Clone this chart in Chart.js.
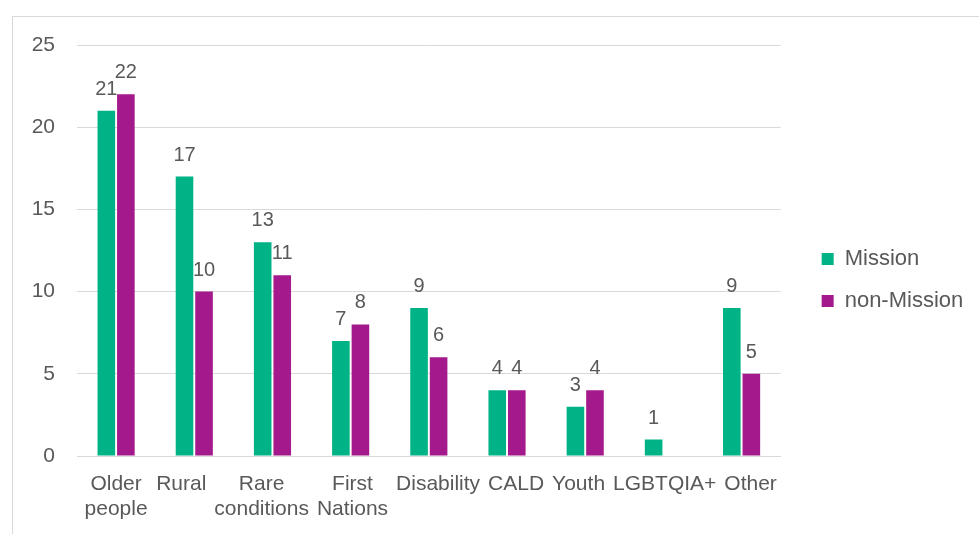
<!DOCTYPE html>
<html>
<head>
<meta charset="utf-8">
<script src="https://cdn.jsdelivr.net/npm/chart.js@4/dist/chart.umd.min.js"></script>
<style>
  html, body { margin: 0; padding: 0; background: #ffffff; }
  #frame { position: absolute; left: 12px; top: 16px; width: 1000px; height: 600px; border: 1px solid #d9d9d9; box-sizing: border-box; }
  #wrap { position: absolute; left: 0; top: 0; width: 979px; height: 534px; }
</style>
</head>
<body>
<div id="frame"></div>
<div id="wrap"><canvas id="c" width="979" height="534"></canvas></div>
<script>
const categories = [["Older", "people"], ["Rural"], ["Rare", "conditions"], ["First", "Nations"], "Disability", "CALD", "Youth", "LGBTQIA+", "Other"];
const seriesNames = ["Mission", "non-Mission"];
const missionValues = [21, 17, 13, 7, 9, 4, 3, 1, 9];
const nonMissionValues = [22, 10, 11, 8, 6, 4, 4, 0, 5];
const yTicks = [0, 5, 10, 15, 20, 25];

const textColor = '#595959';
const gridColor = '#d9d9d9';
const fontFamily = '"Liberation Sans", Arial, sans-serif';

// value labels above each bar
const valueLabels = {
  id: 'valueLabels',
  afterDatasetsDraw(chart) {
    const ctx = chart.ctx;
    ctx.save();
    ctx.font = '20px ' + fontFamily;
    ctx.fillStyle = textColor;
    ctx.textAlign = 'center';
    ctx.textBaseline = 'alphabetic';
    chart.data.datasets.forEach((ds, di) => {
      const meta = chart.getDatasetMeta(di);
      meta.data.forEach((bar, i) => {
        const v = ds.data[i];
        if (v === null || v === 0) return;
        ctx.fillText(String(v), bar.x, bar.y - 16);
      });
    });
    ctx.restore();
  }
};

// category labels, spread apart like Excel so wide labels do not overlap
const categoryLabels = {
  id: 'categoryLabels',
  afterDraw(chart) {
    const ctx = chart.ctx;
    const xs = chart.scales.x;
    const labels = chart.data.labels;
    ctx.save();
    ctx.font = '21px ' + fontFamily;
    ctx.fillStyle = textColor;
    ctx.textAlign = 'center';
    ctx.textBaseline = 'alphabetic';
    const lines = labels.map(l => Array.isArray(l) ? l : [l]);
    const widths = lines.map(ls => Math.max(...ls.map(s => ctx.measureText(s).width)));
    const centers = labels.map((_, i) => xs.getPixelForTick(i));
    const gap = 8;
    for (let it = 0; it < 300; it++) {
      let moved = false;
      for (let i = 0; i < centers.length - 1; i++) {
        const ov = (centers[i] + widths[i] / 2 + gap) - (centers[i + 1] - widths[i + 1] / 2);
        if (ov > 0.01) {
          centers[i] -= ov / 2;
          centers[i + 1] += ov / 2;
          moved = true;
        }
      }
      if (!moved) break;
    }
    const base = chart.chartArea.bottom + 33.5;
    const lh = 25.6;
    lines.forEach((ls, i) => {
      ls.forEach((s, j) => ctx.fillText(s, centers[i], base + j * lh));
    });
    ctx.restore();
  }
};

new Chart(document.getElementById('c'), {
  type: 'bar',
  data: {
    labels: categories,
    datasets: [
      { label: seriesNames[0], data: missionValues, backgroundColor: '#00B386' },
      { label: seriesNames[1], data: nonMissionValues, backgroundColor: '#A4198B' }
    ]
  },
  options: {
    responsive: false,
    animation: false,
    layout: { padding: { top: 45, left: 0, right: 17, bottom: 19 } },
    datasets: { bar: { categoryPercentage: 0.5, barPercentage: 0.9 } },
    scales: {
      x: {
        grid: { display: false, drawTicks: false },
        border: { display: true, color: gridColor, width: 1 },
        ticks: { display: false },
        afterFit(s) { s.height = 59; }
      },
      y: {
        min: 0,
        max: 25,
        afterBuildTicks(s) { s.ticks = yTicks.map(v => ({ value: v })); },
        grid: { color: gridColor, lineWidth: 1, drawTicks: false },
        border: { display: false },
        ticks: {
          color: textColor,
          font: { family: fontFamily, size: 21 },
          padding: 22
        },
        afterFit(s) { s.width = 77; }
      },
      y2: {
        position: 'right',
        display: true,
        grid: { display: false, drawTicks: false },
        border: { display: false },
        ticks: { display: false },
        afterFit(s) { s.width = 21; }
      }
    },
    plugins: {
      legend: {
        position: 'right',
        align: 'center',
        labels: {
          color: textColor,
          font: { family: fontFamily, size: 22 },
          boxWidth: 12,
          boxHeight: 12,
          padding: 20
        }
      },
      tooltip: { enabled: false }
    }
  },
  plugins: [valueLabels, categoryLabels]
});
</script>
</body>
</html>
